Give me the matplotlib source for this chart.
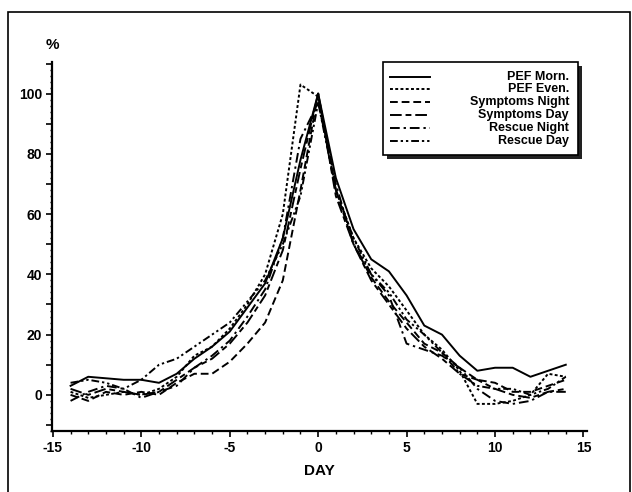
import numpy as np
import matplotlib
matplotlib.use("Agg")
import matplotlib.pyplot as plt
from matplotlib.patches import Rectangle
from matplotlib.ticker import MultipleLocator

plt.rcParams['font.family'] = ['Liberation Sans', 'DejaVu Sans']
plt.rcParams['font.weight'] = 'bold'
plt.rcParams['axes.unicode_minus'] = False

# values, days -14 .. 14
days = list(range(-14, 15))
pef_morn = [3, 6, 5.5, 5, 5, 4, 7, 12, 16, 21, 29, 37, 52, 78, 100, 72, 55, 45, 41, 33, 23, 20, 13, 8, 9, 9, 6, 8, 10]
pef_even = [1, -1, 0, 1, 0, 2, 6, 13, 16, 22, 30, 40, 60, 103, 99, 68, 52, 42, 36, 28, 20, 15, 8, -3, -3, -2, 0, 7, 6]
symp_night = [0, -2, 1, 0, 1, 0, 4, 7, 7, 11, 17, 24, 38, 68, 100, 68, 50, 39, 31, 24, 17, 14, 9, 5, 4, 1, 1, 3, 5]
symp_day = [2, 0, 2, 1, 0, 1, 5, 9, 12, 17, 24, 33, 48, 75, 100, 66, 50, 38, 30, 22, 16, 12, 7, 5, 2, 0, -1, 1, 2]
rescue_night = [-2, 1, 3, 2, -1, 1, 3, 9, 13, 18, 26, 35, 52, 85, 97, 70, 50, 40, 33, 17, 15, 13, 9, 2, -2, -3, -2, 1, 1]
rescue_day = [4, 5, 4, 2, 5, 10, 12, 16, 20, 24, 31, 38, 50, 66, 97, 68, 52, 40, 34, 25, 20, 14, 7, 3, 2, 2, 0, 2, 6]

labels = ['PEF Morn.', 'PEF Even.', 'Symptoms Night', 'Symptoms Day', 'Rescue Night', 'Rescue Day']
series = [pef_morn, pef_even, symp_night, symp_day, rescue_night, rescue_day]
dashes = ['-', (0, (1.5, 1.2)), (0, (4, 2)), (0, (6, 2, 3, 2)),
          (0, (5, 2, 1.2, 2)), (0, (4, 1.5, 1.2, 1.5, 1.2, 1.5))]

fig = plt.figure(figsize=(6.32, 4.92), dpi=100)
ax = fig.add_axes([52/632, 1-431/492, 535/632, 369/492])

for vals, ls in zip(series, dashes):
    ax.plot(days, vals, color='black', lw=1.4, ls=ls)

ax.set_xlim(-15.05, 15.2)
ax.set_ylim(-12, 110.5)
ax.xaxis.set_major_locator(MultipleLocator(5))
ax.xaxis.set_minor_locator(MultipleLocator(1))
ax.yaxis.set_minor_locator(MultipleLocator(2))
ax.set_yticks(np.arange(-10, 111, 10))
ax.set_yticklabels(['' if v % 20 else str(v) for v in range(-10, 111, 10)])

for s in ['top', 'right']:
    ax.spines[s].set_visible(False)
for s in ['left', 'bottom']:
    ax.spines[s].set_linewidth(1.6)
ax.tick_params(axis='both', which='major', length=4, width=1.2, labelsize=10, pad=3)
ax.tick_params(axis='both', which='minor', length=2.5, width=1.0)
ax.tick_params(axis='y', which='minor', length=1.5)

ax.text(0, 1.046, '%', transform=ax.transAxes, ha='center', va='center', fontsize=11, fontweight='bold')
ax.set_xlabel('DAY', fontsize=11, fontweight='bold', labelpad=7)

# legend drawn by hand: lines left, labels right-aligned, shadowed box
x0, x1 = (383-52)/535, (578-52)/535
y0, y1 = (431-155)/369, 1.0
sh = 4/535
ax.add_patch(Rectangle((x0+sh, y0-4/369), x1-x0, y1-y0, transform=ax.transAxes,
                       facecolor='#222222', edgecolor='none', clip_on=False, zorder=5))
ax.add_patch(Rectangle((x0, y0), x1-x0, y1-y0, transform=ax.transAxes,
                       facecolor='white', edgecolor='black', lw=1.2, clip_on=False, zorder=6))
rows = [77, 89, 102, 115, 128, 141]
for lab, ls, py in zip(labels, dashes, rows):
    yy = (431-py)/369
    ax.plot([(390-52)/535, (430-52)/535], [yy, yy], transform=ax.transAxes, color='black',
            lw=1.4, ls=ls, clip_on=False, zorder=7)
    ax.text((569-52)/535, yy, lab, transform=ax.transAxes, ha='right', va='center',
            fontsize=9, fontweight='bold', zorder=7)

fig.add_artist(Rectangle((8/632, -0.05), 622/632, 1.05-12/492, transform=fig.transFigure,
                         facecolor='none', edgecolor='black', lw=1.2))

fig.savefig('out.png', dpi=100)
